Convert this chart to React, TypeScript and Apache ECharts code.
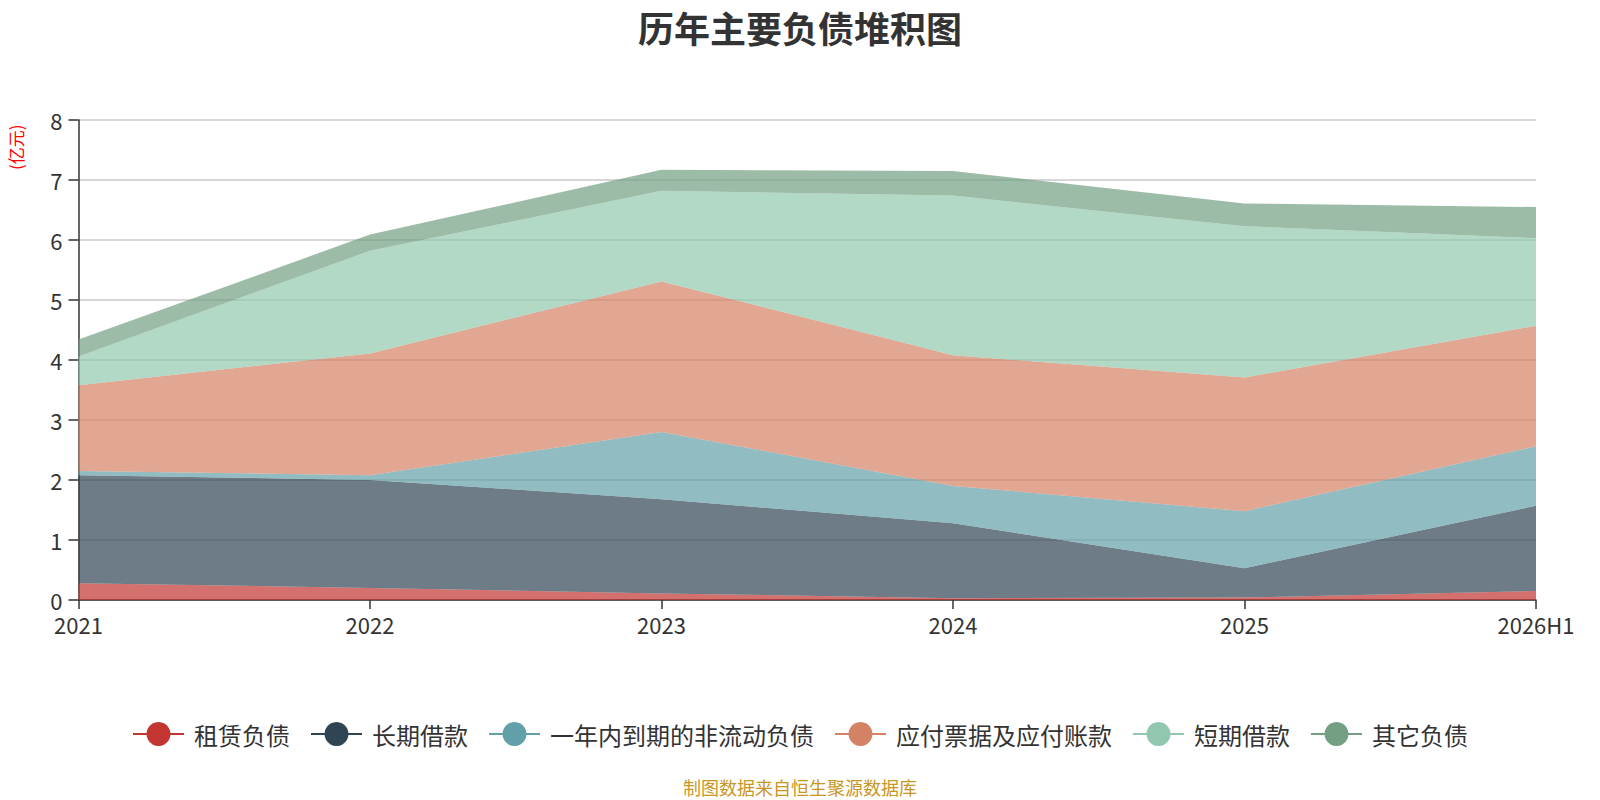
import React, { useEffect, useRef } from "react";
import * as echarts from "echarts";

const categories = ["2021", "2022", "2023", "2024", "2025", "2026H1"];
const seriesNames = ["租赁负债", "长期借款", "一年内到期的非流动负债", "应付票据及应付账款", "短期借款", "其它负债"];
const leaseDebt = [0.28, 0.2, 0.11, 0.03, 0.04, 0.15];
const longLoans = [1.8, 1.8, 1.57, 1.25, 0.49, 1.42];
const currentNonCurrent = [0.07, 0.08, 1.12, 0.62, 0.95, 0.99];
const payables = [1.43, 2.03, 2.51, 2.18, 2.23, 2.01];
const shortLoans = [0.48, 1.71, 1.51, 2.66, 2.52, 1.46];
const otherDebt = [0.28, 0.27, 0.35, 0.41, 0.38, 0.52];
const colors = ["#c23531", "#2f4554", "#61a0a8", "#d48265", "#91c7ae", "#749f83"];

const FONT = "'Noto Sans CJK SC', 'Noto Sans', sans-serif";

export default function App() {
  const ref = useRef<HTMLDivElement>(null);
  useEffect(() => {
    if (!ref.current) return;
    const chart = echarts.init(ref.current, null, { renderer: "svg" });
    const data = [leaseDebt, longLoans, currentNonCurrent, payables, shortLoans, otherDebt];
    chart.setOption({
      animation: false,
      color: colors,
      textStyle: { fontFamily: FONT },
      title: {
        text: "历年主要负债堆积图",
        left: "center",
        top: 4,
        textStyle: { fontSize: 36, fontWeight: "bold", color: "#333", fontFamily: FONT },
      },
      legend: {
        data: seriesNames,
        top: 717,
        left: "center",
        itemWidth: 51,
        itemHeight: 30,
        itemGap: 20,
        textStyle: { fontSize: 24, color: "#333", fontFamily: FONT, padding: [0, 0, 0, 5] },
        lineStyle: { width: 2, opacity: 1 },
      },
      grid: { left: 78.5, right: 64, top: 120, bottom: 200, containLabel: false },
      xAxis: {
        type: "category",
        data: categories,
        boundaryGap: false,
        axisLine: { lineStyle: { color: "#333", width: 1.5 } },
        axisTick: { show: true, alignWithLabel: true, length: 9, lineStyle: { color: "#333", width: 1.5 } },
        axisLabel: { fontSize: 22, color: "#333", margin: 13 },
      },
      yAxis: {
        type: "value",
        min: 0,
        max: 8,
        interval: 1,
        axisLine: { show: true, lineStyle: { color: "#333", width: 1.5 } },
        axisTick: { show: true, length: 10, lineStyle: { color: "#333", width: 1.5 } },
        axisLabel: { fontSize: 22, color: "#333", margin: 16 },
        splitLine: { show: true, lineStyle: { color: "#c8c8c8", width: 1.5 } },
      },
      graphic: [
        {
          type: "text",
          x: 7,
          y: 170,
          rotation: Math.PI / 2,
          style: { text: "(亿元)", fill: "#ff0000", fontSize: 17, fontFamily: FONT },
        },
        {
          type: "text",
          x: 800,
          y: 787,
          style: {
            text: "制图数据来自恒生聚源数据库",
            fill: "#c9961f",
            fontSize: 18,
            fontFamily: FONT,
            textAlign: "center",
            textVerticalAlign: "middle",
          },
        },
      ],
      series: seriesNames.map((name, i) => ({
        name,
        type: "line",
        stack: "total",
        data: data[i],
        symbol: "circle",
        showSymbol: false,
        lineStyle: { width: 0, opacity: 0 },
        areaStyle: { opacity: 0.7 },
        emphasis: { disabled: true },
      })),
    });
    return () => chart.dispose();
  }, []);
  return <div ref={ref} style={{ position: "absolute", left: 0, top: 0, width: 1600, height: 800 }} />;
}
